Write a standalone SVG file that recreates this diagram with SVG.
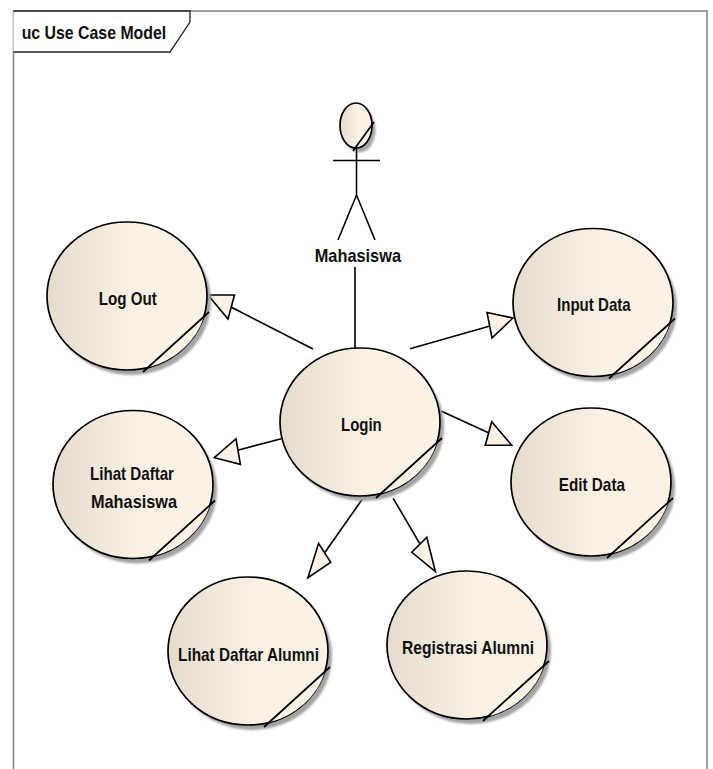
<svg xmlns="http://www.w3.org/2000/svg" xmlns:xlink="http://www.w3.org/1999/xlink" width="713" height="769" viewBox="0 0 713 769">
<style>
.t{font-family:"Liberation Sans",Arial,sans-serif;font-weight:bold;font-size:19px;fill:#111}
.o{fill:none;stroke:#000;stroke-width:1.7}
.e{fill:url(#g);stroke:#000;stroke-width:1.7}
.c{fill:none;stroke:#000;stroke-width:1.6}
.a{fill:#FBF2E4;stroke:#000;stroke-width:1.6;stroke-linejoin:miter}
.f{fill:none;stroke:#808080;stroke-width:1.5}
</style>
<defs>
<linearGradient id="g" x1="0" y1="0" x2="1" y2="0"><stop offset="0" stop-color="#E6DCCD"/><stop offset="0.55" stop-color="#FAF1E3"/><stop offset="1" stop-color="#FBF2E4"/></linearGradient>
<filter id="b" x="-10%" y="-10%" width="120%" height="120%"><feGaussianBlur stdDeviation="1.1"/></filter>
<g id="uc">
<ellipse cx="4" cy="5" rx="80" ry="74" fill="#a3a3a3" filter="url(#b)"/>
<ellipse rx="80" ry="74" class="e"/>
<path d="M77 20.5A80 74 0 0 1 21 71.5Z" fill="#FBF2E4"/>
<path d="M16 76L82 16" class="o"/>
</g>
</defs>
<rect width="713" height="769" fill="#fff"/>
<g id="frame">
<path d="M13.5 769V11H707V769" class="f"/>
<path d="M13.5 52H170L190 22V11H13.5" fill="#fff" stroke="#222" stroke-width="1.3"/>
<text class="t" x="21.7" y="38.5" textLength="144.5" lengthAdjust="spacingAndGlyphs">uc Use Case Model</text>
</g>
<g id="connectors">
<path class="c" d="M355 267V348"/>
<path class="c" d="M313 349L231 307"/><path class="a" d="M208 295H234.5L228 319Z"/>
<path class="c" d="M410 348.7L490 326"/><path class="a" d="M513 318L487 312.5L492 338Z"/>
<path class="c" d="M441 411L489 433"/><path class="a" d="M491.7 421.7L511.7 445.3H485.3Z"/>
<path class="c" d="M281.4 438.7L238.6 450"/><path class="a" d="M214.3 457.7L236 438.7L240.4 464.3Z"/>
<path class="c" d="M362.9 498.3L324.3 553.3"/><path class="a" d="M307.9 577.7L318.6 543.3L330.7 562.3Z"/>
<path class="c" d="M393.2 498.3L419.6 543.3"/><path class="a" d="M426.8 537.3L411.8 552.3L435.4 571.7Z"/>
</g>
<g id="actor">
<ellipse cx="359.5" cy="130" rx="16" ry="22.5" fill="#a3a3a3" filter="url(#b)"/>
<ellipse cx="356" cy="125.5" rx="16" ry="22.5" class="e"/>
<path d="M353 151L374 122" class="o"/>
<path d="M356.5 148V195M333 160.5H380M338 240L356.5 195L375 240" class="c"/>
<text class="t" x="314.7" y="262" textLength="86.3" lengthAdjust="spacingAndGlyphs">Mahasiswa</text>
</g>
<g id="logout"><use href="#uc" xlink:href="#uc" x="127" y="296"/><text class="t" x="98.7" y="305" textLength="58" lengthAdjust="spacingAndGlyphs">Log Out</text></g>
<g id="login"><use href="#uc" xlink:href="#uc" x="360" y="422"/><text class="t" x="341" y="430.7" textLength="40.7" lengthAdjust="spacingAndGlyphs">Login</text></g>
<g id="input"><use href="#uc" xlink:href="#uc" x="593" y="302.5"/><text class="t" x="557" y="310.7" textLength="73.7" lengthAdjust="spacingAndGlyphs">Input Data</text></g>
<g id="edit"><use href="#uc" xlink:href="#uc" x="591" y="482"/><text class="t" x="558.7" y="490.7" textLength="66.3" lengthAdjust="spacingAndGlyphs">Edit Data</text></g>
<g id="lihatm"><use href="#uc" xlink:href="#uc" x="133" y="484.5"/><text class="t" x="90" y="480" textLength="84" lengthAdjust="spacingAndGlyphs">Lihat Daftar</text><text class="t" x="91" y="508" textLength="86" lengthAdjust="spacingAndGlyphs">Mahasiswa</text></g>
<g id="lihata"><use href="#uc" xlink:href="#uc" x="248" y="651"/><text class="t" x="178" y="660.7" textLength="141" lengthAdjust="spacingAndGlyphs">Lihat Daftar Alumni</text></g>
<g id="reg"><use href="#uc" xlink:href="#uc" x="467" y="645"/><text class="t" x="402" y="654" textLength="132" lengthAdjust="spacingAndGlyphs">Registrasi Alumni</text></g>
</svg>
